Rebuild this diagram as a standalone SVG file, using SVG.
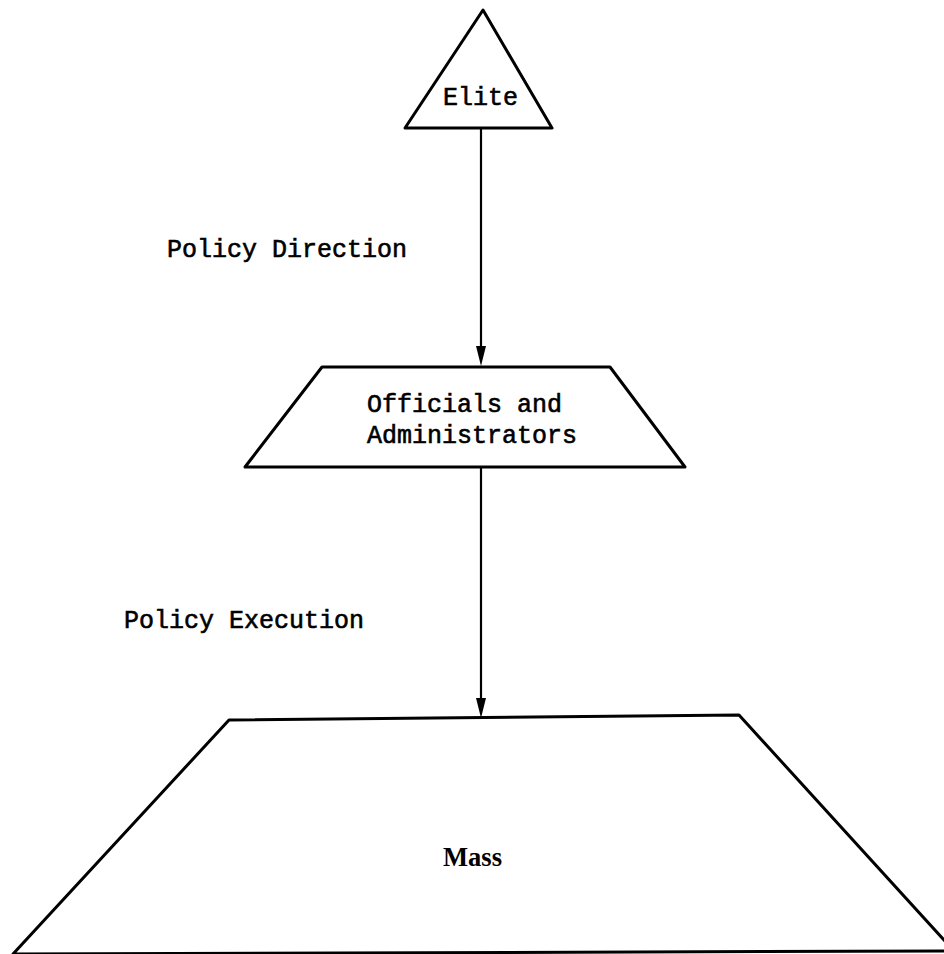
<svg xmlns="http://www.w3.org/2000/svg" width="944" height="954" viewBox="0 0 944 954">
<style>
.shape{fill:none;stroke:#000;stroke-width:3;stroke-linejoin:round}
.conn{stroke:#000;stroke-width:2.2;fill:none}
.head{fill:#000}
.t{font-family:"Liberation Mono","Courier New",monospace;font-size:25px;fill:#000;stroke:#000;stroke-width:0.6}
.m{font-family:"Liberation Serif","Times New Roman",serif;font-weight:bold;font-size:27px;fill:#000}
</style>
<rect width="944" height="954" fill="#fff"/>
<g id="connectors">
<line class="conn" x1="481" y1="128" x2="481" y2="350"/>
<path class="head" d="M476,346 L486,346 L481,366 Z"/>
<line class="conn" x1="481" y1="468" x2="481" y2="702"/>
<path class="head" d="M476,698 L486,698 L481,718 Z"/>
</g>
<g id="elite">
<polygon class="shape" points="483,10 552,128 405,128"/>
<text class="t" x="443" y="105">Elite</text>
</g>
<g id="officials">
<polygon class="shape" points="322,367 610,367 685,467 245,467"/>
<text class="t" x="367" y="412">Officials and</text>
<text class="t" x="367" y="443">Administrators</text>
</g>
<g id="mass">
<polygon class="shape" points="229,720 739,715 954,951 13,954"/>
<text class="m" x="443" y="866" textLength="59" lengthAdjust="spacingAndGlyphs">Mass</text>
</g>
<g id="labels">
<text class="t" x="167" y="257">Policy Direction</text>
<text class="t" x="124" y="628">Policy Execution</text>
</g>
</svg>
